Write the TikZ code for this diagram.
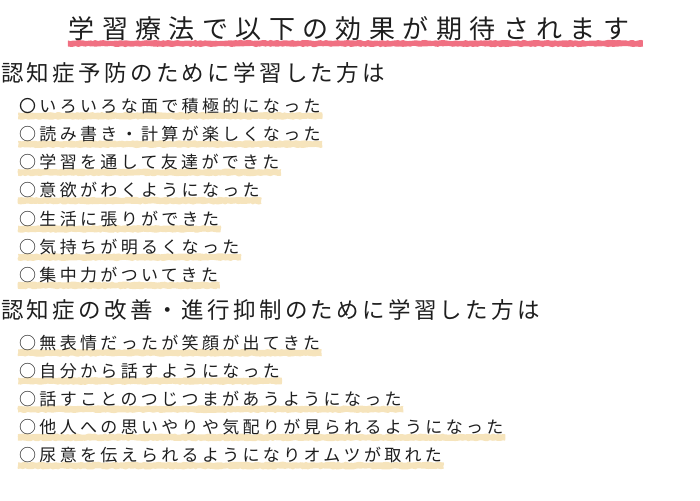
\documentclass[tikz,border=0pt]{standalone}
\usepackage{fontspec}
\usetikzlibrary{backgrounds,decorations.pathmorphing}
\newfontfamily\jpT[LetterSpace=28.5]{Noto Sans CJK JP}
\newfontfamily\jpH[LetterSpace=14.7]{Noto Sans CJK JP}
\newfontfamily\jpI[LetterSpace=19.5]{Noto Sans CJK JP}
\definecolor{pinkline}{HTML}{F07082}
\definecolor{beige}{HTML}{F6E4BC}
\definecolor{ink}{HTML}{1E1E1E}
\tikzset{
  titletext/.style={anchor=base west,inner sep=0pt,text=ink,font=\jpT\fontsize{26pt}{30pt}\selectfont},
  headtext/.style={anchor=base west,inner sep=0pt,text=ink,font=\jpH\fontsize{22.5pt}{26pt}\selectfont},
  itemtext/.style={anchor=base west,inner sep=0pt,text=ink,font=\jpI\fontsize{17pt}{20pt}\selectfont},
  rough/.style={decorate,decoration={random steps,segment length=2.5pt,amplitude=0.6pt}},
  band/.style={fill=beige,rough},
  pinkband/.style={fill=pinkline,rough},
}
\begin{document}
\begin{tikzpicture}[x=1pt,y=-1pt]
\useasboundingbox (0,0) rectangle (700,500);
\node[titletext] (t) at (68.5,38.4) {学習療法で以下の効果が期待されます};
\node[headtext] (h1) at (1,81.4) {認知症予防のために学習した方は};
\foreach \i/\txt in {1/〇いろいろな面で積極的になった,
                     2/○読み書き・計算が楽しくなった,
                     3/○学習を通して友達ができた,
                     4/○意欲がわくようになった,
                     5/○生活に張りができた,
                     6/○気持ちが明るくなった,
                     7/○集中力がついてきた}
  \node[itemtext] (a\i) at (19,{112.2+28.25*(\i-1)}) {\txt};
\node[headtext] (h2) at (1,318.4) {認知症の改善・進行抑制のために学習した方は};
\foreach \i/\txt in {1/○無表情だったが笑顔が出てきた,
                     2/○自分から話すようになった,
                     3/○話すことのつじつまがあうようになった,
                     4/○他人への思いやりや気配りが見られるようになった,
                     5/○尿意を伝えられるようになりオムツが取れた}
  \node[itemtext] (b\i) at (19,{349.1+28.2*(\i-1)}) {\txt};
\begin{scope}[on background layer]
  \fill[pinkband] (68,40.5) rectangle (643,46.5);
  \foreach \i in {1,...,7}
    \fill[band] ([xshift=-1pt,yshift=-0.4pt]a\i.base west) rectangle ([xshift=1.5pt,yshift=-7pt]a\i.base east);
  \foreach \i in {1,...,5}
    \fill[band] ([xshift=-1pt,yshift=-0.4pt]b\i.base west) rectangle ([xshift=1.5pt,yshift=-7pt]b\i.base east);
\end{scope}
\end{tikzpicture}
\end{document}
